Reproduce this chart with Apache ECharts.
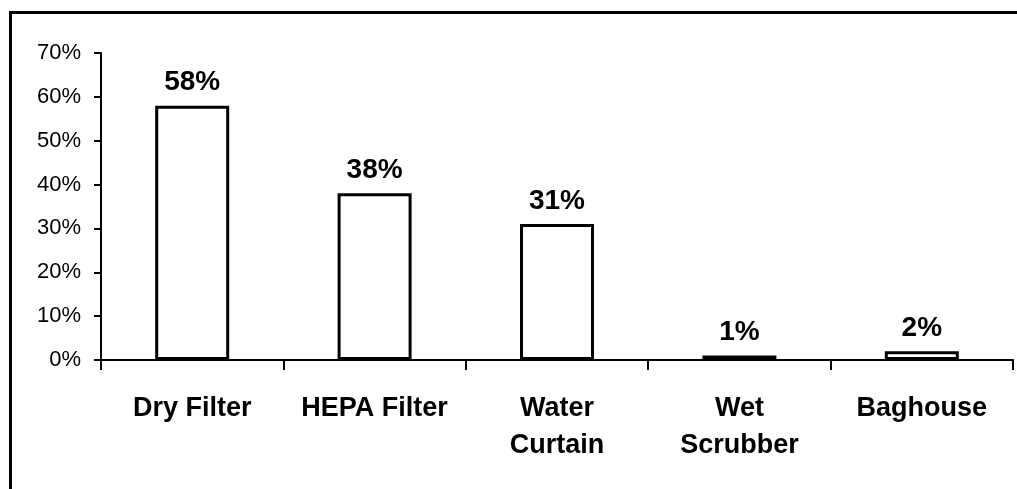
<!DOCTYPE html>
<html>
<head>
<meta charset="utf-8">
<title>Control device usage</title>
<script src="https://cdn.jsdelivr.net/npm/echarts@6/dist/echarts.min.js"></script>
<style>
  html, body { margin: 0; padding: 0; background: #fff; }
  #chart { width: 1017px; height: 489px; }
</style>
</head>
<body>
<div id="chart"></div>
<script>
// Share of shops reporting each type of control device (percent)
const categories = ['Dry Filter', 'HEPA Filter', 'Water\nCurtain', 'Wet\nScrubber', 'Baghouse'];
const percentUsing = [58, 38, 31, 1, 2];

const FONT = '"Liberation Sans", Arial, sans-serif';

const chart = echarts.init(document.getElementById('chart'), null, { renderer: 'canvas' });

chart.setOption({
  animation: false,
  backgroundColor: '#ffffff',
  grid: { left: 101, right: 4, top: 53, bottom: 129, containLabel: false },
  // Frame drawn around the plot area (top and left edges)
  graphic: [{
    type: 'polyline',
    shape: { points: [[10.5, 489], [10.5, 12.5], [1017, 12.5]] },
    style: { stroke: '#000', lineWidth: 3, fill: null }
  }],
  xAxis: {
    type: 'category',
    data: categories,
    axisLine: { lineStyle: { color: '#000', width: 2 } },
    axisTick: { show: true, length: 10, lineStyle: { color: '#000', width: 2 } },
    axisLabel: {
      color: '#000', fontFamily: FONT, fontWeight: 'bold', fontSize: 27,
      margin: 30, lineHeight: 37, interval: 0
    },
    splitLine: { show: false }
  },
  yAxis: {
    type: 'value',
    min: 0, max: 70, interval: 10,
    axisLine: { show: true, lineStyle: { color: '#000', width: 2 } },
    axisTick: { show: true, length: 7, lineStyle: { color: '#000', width: 2 } },
    axisLabel: { color: '#000', fontFamily: FONT, fontSize: 22, margin: 20, formatter: '{value}%' },
    splitLine: { show: false }
  },
  series: [{
    type: 'bar',
    data: percentUsing,
    barWidth: 74,
    itemStyle: { color: '#ffffff', borderColor: '#000', borderWidth: 3 },
    label: {
      show: true, position: 'top', distance: 9,
      color: '#000', fontFamily: FONT, fontWeight: 'bold', fontSize: 28,
      formatter: '{c}%'
    }
  }]
});
</script>
</body>
</html>
